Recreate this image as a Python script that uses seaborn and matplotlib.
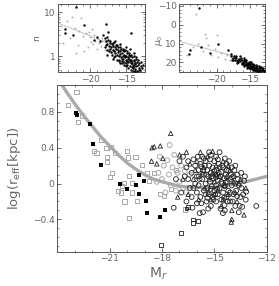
import numpy as np
import matplotlib
matplotlib.use("Agg")
import matplotlib.pyplot as plt
import matplotlib.ticker as mticker
import seaborn as sns

# ---- main panel: log(r_eff) vs M_r ----
dE_filled_M = [-22.91, -22.86, -22.15, -21.94, -21.49, -20.38, -20.0, -19.49, -19.3, -19.05,
               -19.3, -18.91, -18.86, -18.13, -17.8]
dE_filled_y = [0.785, 0.76, 0.667, 0.44, 0.21, 0.0, -0.06, -0.02, 0.09, 0.03,
               -0.115, -0.196, -0.326, -0.37, -0.29]

gray_sq_M = [-22.9, -23.37, -22.8, -22.57, -21.47, -21.18, -20.95, -21.9, -21.75, -21.14,
             -20.67, -21.14, -20.0, -19.96, -19.52, -19.14, -20.86, -20.99, -19.9, -19.71,
             -20.19, -20.29, -20.53, -20.34, -19.71, -20.15, -19.43, -19.9, -18.86, -18.76,
             -18.48, -18.13, -17.9, -16.7, -17.5, -17.2]
gray_sq_y = [1.02, 0.88, 0.69, 0.76, 0.49, 0.40, 0.41, 0.36, 0.34, 0.30,
             0.34, 0.24, 0.36, 0.29, 0.30, 0.21, 0.12, 0.07, 0.08, 0.007,
             0.007, -0.03, -0.085, -0.10, -0.10, -0.20, -0.196, -0.38, 0.12, 0.026,
             0.12, -0.12, -0.14, -0.29, -0.06, 0.15]

open_sq_M = [-18.04, -16.93, -16.23, -15.94, -16.24, -16.6, -16.5]
open_sq_y = [-0.685, -0.55, -0.40, -0.42, -0.44, -0.28, -0.26]

gray_circ_M = [-18.13, -17.56, -18.2, -18.0, -17.9, -17.7, -17.6, -17.5, -17.4, -17.3,
               -17.2, -17.1, -17.0, -16.9, -16.8, -16.7, -16.6, -16.4, -18.3, -17.8]
gray_circ_y = [0.30, 0.43, 0.12, 0.05, 0.20, 0.26, 0.10, -0.02, 0.18, 0.32,
               -0.08, 0.12, 0.02, 0.20, -0.05, 0.14, -0.10, 0.10, 0.02, -0.10]

circ_M = [-17.0, -16.8, -16.6, -16.5, -16.4, -16.3, -16.2, -16.1, -16.0, -16.0,
          -15.9, -15.9, -15.8, -15.8, -15.75, -15.7, -15.65, -15.6, -15.6, -15.5,
          -15.5, -15.45, -15.4, -15.4, -15.35, -15.3, -15.3, -15.25, -15.2, -15.2,
          -15.15, -15.1, -15.1, -15.05, -15.0, -15.0, -14.95, -14.9, -14.9, -14.85,
          -14.8, -14.8, -14.75, -14.7, -14.7, -14.65, -14.6, -14.6, -14.55, -14.5,
          -14.5, -14.51, -14.45, -14.42, -14.4, -14.35, -14.3, -14.3, -14.25, -14.2,
          -14.2, -14.1, -14.1, -14.0, -14.0, -13.9, -13.9, -13.8, -13.8, -13.7,
          -13.6, -13.6, -13.5, -13.46, -13.4, -13.3, -13.2, -13.18, -12.6, -15.84,
          -16.26, -17.33, -16.9, -16.7, -17.2, -16.6, -15.7, -15.2, -14.9, -14.4,
          -16.3, -16.1, -15.95, -15.85, -15.75, -15.65, -15.55, -15.45, -15.35, -15.25,
          -15.15, -15.05, -14.95, -14.85, -14.75, -14.65, -14.55, -14.45, -14.35, -14.25,
          -14.15, -14.05, -13.95, -13.85, -13.75, -13.65, -13.55, -13.45, -13.35, -13.25,
          -15.6, -15.3, -15.0, -14.7, -14.4, -14.1, -13.8, -16.2, -15.9, -15.5,
          -15.2, -14.9, -14.6, -14.3, -14.0, -13.7, -16.5, -16.0, -15.4, -14.8]
circ_y = [0.25, 0.30, 0.18, 0.05, -0.05, 0.12, 0.27, 0.20, -0.10, 0.08,
          0.15, -0.02, 0.22, -0.15, 0.19, 0.05, -0.32, 0.10, -0.08, 0.25,
          0.00, -0.20, 0.15, -0.05, 0.08, -0.12, 0.20, 0.02, -0.25, 0.12,
          -0.03, 0.18, -0.15, 0.06, -0.08, 0.25, 0.10, -0.02, -0.20, 0.15,
          0.04, -0.12, 0.22, 0.35, -0.05, 0.08, -0.18, 0.13, 0.00, -0.10,
          0.18, -0.33, 0.06, -0.24, -0.03, 0.10, -0.15, 0.22, 0.02, -0.08,
          0.14, -0.20, 0.05, -0.02, 0.18, -0.12, 0.08, 0.00, -0.25, 0.10,
          -0.02, -0.32, -0.15, 0.12, -0.26, 0.03, -0.18, -0.09, -0.25, -0.33,
          -0.27, -0.27, -0.10, 0.08, 0.05, -0.20, 0.30, 0.32, 0.30, 0.28,
          -0.15, 0.00, 0.30, 0.05, -0.22, 0.15, 0.20, 0.10, -0.28, 0.27,
          0.08, -0.18, -0.12, -0.06, 0.12, -0.28, 0.20, -0.16, 0.01, -0.20,
          0.25, 0.10, -0.20, 0.15, -0.08, 0.05, -0.25, -0.05, -0.12, 0.08,
          0.28, 0.35, 0.14, 0.18, -0.30, -0.10, 0.20, -0.05, 0.08, -0.12,
          -0.06, 0.07, 0.02, 0.15, 0.07, -0.14, 0.25, -0.22, -0.16, 0.27]

tri_M = [-18.57, -18.45, -18.1, -17.5, -18.6, -18.3, -17.95, -16.99, -16.6, -16.4,
         -16.2, -16.0, -15.9, -15.7, -15.55, -15.4, -15.3, -15.2, -15.1, -15.0,
         -14.9, -14.8, -14.7, -14.6, -14.5, -14.4, -14.3, -14.2, -14.1, -14.0,
         -13.9, -13.7, -13.5, -13.3, -14.03, -14.0, -16.8, -17.1, -16.5, -15.8,
         -15.1, -15.6, -15.0, -14.5, -14.2, -13.8, -15.35, -14.85, -16.1, -13.6, -13.2]
tri_y = [0.40, 0.41, 0.42, 0.56, 0.25, 0.22, 0.28, 0.32, 0.35, 0.22,
         0.05, 0.25, -0.18, 0.12, -0.05, 0.30, 0.05, -0.18, 0.12, 0.02,
         0.20, -0.08, 0.08, -0.25, 0.25, -0.02, 0.08, -0.12, 0.15, -0.30,
         0.02, -0.20, 0.05, -0.35, -0.43, -0.40, 0.05, -0.15, -0.12, 0.35,
         0.36, 0.18, -0.12, -0.18, 0.20, -0.10, -0.10, 0.10, 0.15, 0.00, -0.05]

curve_M = [-23.8, -23.5, -23.0, -22.5, -22.0, -21.5, -21.0, -20.5, -20.0, -19.5,
           -19.0, -18.5, -18.0, -17.0, -16.0, -15.0, -14.0, -13.0, -12.0]
curve_y = [1.12, 1.03, 0.89, 0.76, 0.64, 0.52, 0.42, 0.32, 0.23, 0.16,
           0.10, 0.05, 0.02, -0.03, -0.045, -0.04, -0.01, 0.03, 0.08]

# ---- inset: Sersic n vs M_r ----
n_out_M = [-21.94, -23.5, -23.5, -22.3, -20.8, -17.8, -19.5, -17.5, -14.4, -19.0, -18.6, -18.2]
n_out = [13.4, 4.1, 3.4, 3.1, 5.2, 5.4, 2.4, 3.6, 3.4, 2.8, 2.2, 3.0]

n_cloud_M = [-18.0, -17.8, -17.7, -17.5, -17.4, -17.3, -17.2, -17.0, -16.9, -16.8,
             -16.7, -16.6, -16.5, -16.4, -16.3, -16.2, -16.1, -16.0, -15.9, -15.8,
             -15.7, -15.6, -15.5, -15.4, -15.3, -15.2, -15.1, -15.0, -14.9, -14.8,
             -14.7, -14.6, -14.5, -14.4, -14.3, -14.2, -14.1, -14.0, -13.9, -13.8,
             -13.6, -13.4, -13.2,
             -17.9, -17.6, -17.1, -16.85, -16.55, -16.25, -15.95, -15.85, -15.65, -15.45,
             -15.35, -15.25, -15.05, -14.95, -14.85, -14.65, -14.55, -14.45, -14.25, -14.15,
             -14.05, -13.95, -13.75, -13.5, -13.3, -15.55, -15.15, -14.75, -14.35, -13.85,
             -17.85, -17.65, -17.45, -17.25, -17.05, -16.95, -16.75, -16.65, -16.45, -16.35,
             -16.15, -16.05, -15.9, -15.75, -15.6, -15.5, -15.3, -15.2, -15.0, -14.9,
             -14.7, -14.6, -14.4, -14.3, -14.1, -14.0, -13.8, -13.7, -13.5, -13.4,
             -13.1, -12.9, -16.6, -15.8, -15.1, -14.5, -13.9, -16.9, -17.6, -13.0,
             -12.8, -12.7, -13.3, -13.6]
n_cloud = [2.6, 2.2, 1.9, 2.4, 1.7, 2.0, 1.5, 1.9, 1.4, 1.7,
           1.3, 1.6, 1.2, 1.5, 1.1, 1.4, 1.25, 1.0, 1.3, 1.15,
           0.95, 1.2, 1.05, 0.9, 1.1, 0.95, 0.85, 1.0, 0.8, 0.95,
           0.75, 0.9, 0.8, 0.7, 0.85, 0.72, 0.65, 0.78, 0.62, 0.7,
           0.6, 0.65, 0.55,
           1.6, 1.4, 1.25, 2.0, 1.0, 1.8, 0.85, 1.6, 0.8, 1.4,
           0.75, 1.3, 0.7, 1.2, 0.65, 1.1, 0.6, 1.0, 0.58, 0.95,
           0.55, 0.85, 0.52, 0.75, 0.5, 0.9, 1.05, 0.88, 0.78, 0.68,
           1.8, 2.7, 1.3, 2.3, 1.6, 1.1, 2.1, 0.95, 1.8, 0.85,
           1.6, 0.8, 0.7, 1.45, 0.7, 1.5, 0.65, 1.4, 0.6, 1.3,
           0.55, 1.2, 0.5, 1.1, 0.48, 1.0, 0.46, 0.9, 0.48, 0.82,
           0.5, 0.6, 2.3, 1.9, 1.6, 1.45, 1.2, 0.9, 1.1, 0.75,
           0.55, 0.65, 0.7, 0.95]

n_gray_M = [-24.0, -23.8, -23.2, -22.8, -22.5, -22.1, -21.7, -21.5, -21.2, -21.0,
            -20.6, -20.3, -20.0, -19.8, -19.6, -19.3, -19.0, -18.8, -18.5, -18.3,
            -18.0, -17.8, -17.5, -17.2, -17.0, -16.8, -16.5, -16.3, -20.8, -22.0,
            -19.9, -19.4, -18.9, -18.4, -17.9, -17.4, -16.9, -16.4, -15.9, -20.2]
n_gray = [5.0, 2.0, 6.5, 2.6, 8.0, 4.5, 1.8, 3.8, 7.5, 2.9,
          3.4, 1.6, 2.7, 4.2, 1.9, 2.3, 1.5, 2.0, 1.7, 2.6,
          1.4, 1.9, 1.5, 1.7, 1.2, 1.5, 1.3, 1.1, 1.3, 1.2,
          2.1, 3.0, 2.5, 2.2, 2.4, 2.1, 1.8, 1.7, 1.4, 3.6]

n_fit_M = [-24.4, -17.5]
n_fit = [5.7, 2.0]

# ---- inset: central surface brightness mu_0 vs M_r ----
mu_out_M = [-22.6, -24.0, -24.1, -19.75, -18.3, -22.3, -21.0]
mu_out = [-9.0, 13.5, 15.5, 10.0, 13.5, 12.0, 15.0]

mu_cloud_M = [-17.8, -17.6, -17.4, -17.2, -17.0, -16.8, -16.6, -16.4, -16.2, -16.0,
              -15.9, -15.8, -15.7, -15.6, -15.5, -15.4, -15.3, -15.2, -15.1, -15.0,
              -14.9, -14.8, -14.7, -14.6, -14.5, -14.4, -14.3, -14.2, -14.1, -14.0,
              -13.9, -13.8, -13.6, -13.4, -13.2, -13.0,
              -17.5, -17.1, -16.7, -16.3, -15.95, -15.65, -15.35, -15.05, -14.85, -14.55,
              -14.35, -14.05, -13.75, -13.5, -16.5, -15.45, -14.95, -14.25, -13.85,
              -17.7, -17.3, -16.9, -16.5, -16.1, -15.75, -15.55, -15.25, -14.95, -14.75,
              -14.45, -14.15, -13.95, -13.65, -13.45, -13.3, -13.1, -12.9, -14.65, -15.15,
              -15.85, -16.15, -16.95, -17.9, -13.55, -14.3, -14.8, -12.95, -13.25, -15.9]
mu_cloud = [16.5, 17.5, 16.8, 18.5, 17.5, 18.8, 18.0, 19.5, 18.8, 19.8,
            19.0, 20.5, 19.5, 20.8, 20.0, 21.0, 20.3, 21.5, 20.8, 21.8,
            21.0, 22.3, 21.5, 22.5, 21.8, 23.0, 22.2, 23.2, 22.5, 23.5,
            22.8, 23.8, 23.2, 24.0, 23.5, 24.3,
            19.0, 16.5, 20.0, 17.5, 21.0, 18.5, 22.0, 19.8, 23.2, 20.8,
            24.0, 21.5, 24.5, 22.5, 16.8, 22.8, 20.0, 24.3, 21.8,
            18.5, 17.0, 19.5, 18.5, 20.5, 21.5, 19.0, 22.5, 22.8, 20.5,
            23.8, 23.8, 24.5, 24.5, 23.0, 24.6, 23.8, 24.6, 23.5, 23.0,
            22.0, 21.0, 20.5, 15.5, 21.8, 21.2, 19.8, 23.2, 22.5, 17.8]

mu_gray_M = [-23.1, -21.7, -21.6, -20.0, -24.5, -23.5, -22.8, -22.0, -21.3, -20.8,
             -20.3, -19.8, -19.3, -18.8, -18.5, -18.0, -17.7, -17.3, -17.0, -16.6]
mu_gray = [-5.5, 5.0, 7.0, 5.5, 16.0, 12.0, 10.5, 14.0, 11.0, 16.0,
           13.0, 17.0, 15.0, 18.0, 16.0, 19.0, 17.5, 19.0, 18.0, 20.0]

mu_fit_M = [-25.5, -17.0]
mu_fit = [9.0, 17.0]

FRAME = "#555555"
TEXT = "#666666"

sns.set_style("ticks")
plt.rcParams.update({
    "font.family": ["DejaVu Sans"],
    "axes.edgecolor": FRAME,
    "axes.linewidth": 0.7,
    "xtick.color": FRAME,
    "ytick.color": FRAME,
    "xtick.labelcolor": TEXT,
    "ytick.labelcolor": TEXT,
    "xtick.direction": "in",
    "ytick.direction": "in",
    "xtick.top": True,
    "ytick.right": True,
    "xtick.major.size": 3,
    "ytick.major.size": 3,
    "xtick.minor.size": 1.5,
    "ytick.minor.size": 1.5,
    "xtick.major.width": 0.6,
    "ytick.major.width": 0.6,
    "xtick.minor.width": 0.5,
    "ytick.minor.width": 0.5,
    "xtick.labelsize": 6.5,
    "ytick.labelsize": 6.5,
})

fig = plt.figure(figsize=(2.79, 2.86), dpi=100)
ax = fig.add_axes([0.2054, 0.12, 0.7505, 0.5829])
ax_n = fig.add_axes([0.209, 0.749, 0.311, 0.237])
ax_mu = fig.add_axes([0.643, 0.749, 0.307, 0.237])

# main panel
sns.lineplot(x=curve_M, y=curve_y, ax=ax, color="#aaaaaa", lw=2.4, sort=False, zorder=1)
sns.scatterplot(x=gray_sq_M, y=gray_sq_y, ax=ax, marker="s", s=9, facecolor="none",
                edgecolor="#a8a8a8", linewidth=0.7, zorder=2)
sns.scatterplot(x=gray_circ_M, y=gray_circ_y, ax=ax, marker="o", s=12, facecolor="none",
                edgecolor="#a8a8a8", linewidth=0.7, zorder=2)
sns.scatterplot(x=circ_M, y=circ_y, ax=ax, marker="o", s=12, facecolor="none",
                edgecolor="#222222", linewidth=0.6, zorder=3)
sns.scatterplot(x=tri_M, y=tri_y, ax=ax, marker="^", s=10, facecolor="none",
                edgecolor="#222222", linewidth=0.6, zorder=3)
sns.scatterplot(x=open_sq_M, y=open_sq_y, ax=ax, marker="s", s=7, facecolor="none",
                edgecolor="#222222", linewidth=0.6, zorder=3)
sns.scatterplot(x=dE_filled_M, y=dE_filled_y, ax=ax, marker="s", s=6, color="black",
                linewidth=0, zorder=4)

ax.set_xlim(-24, -12)
ax.set_ylim(-0.76, 1.1)
ax.xaxis.set_major_locator(mticker.FixedLocator([-21, -18, -15, -12]))
ax.xaxis.set_minor_locator(mticker.MultipleLocator(1))
ax.yaxis.set_major_locator(mticker.FixedLocator([-0.4, 0, 0.4, 0.8]))
ax.yaxis.set_major_formatter(mticker.FixedFormatter(["\u22120.4", "0", "0.4", "0.8"]))
ax.yaxis.set_minor_locator(mticker.MultipleLocator(0.1))
ax.set_xlabel("M$_r$", fontsize=10, color=TEXT)
ax.set_ylabel("log(r$_\\mathrm{eff}$[kpc])", fontsize=9.5, color=TEXT)
ax.yaxis.set_label_coords(-0.165, 0.5)
ax.xaxis.set_label_coords(0.48, -0.085)

# n inset
sns.lineplot(x=n_fit_M, y=n_fit, ax=ax_n, color="#c8c8c8", lw=0.8, zorder=1)
sns.scatterplot(x=n_gray_M, y=n_gray, ax=ax_n, s=2, color="#b0b0b0", linewidth=0, zorder=2)
sns.scatterplot(x=n_cloud_M, y=n_cloud, ax=ax_n, s=3, color="black", linewidth=0, zorder=3)
sns.scatterplot(x=n_out_M, y=n_out, ax=ax_n, s=3, color="black", linewidth=0, zorder=3)
ax_n.set_yscale("log")
ax_n.set_xlim(-24.4, -12.4)
ax_n.set_ylim(0.45, 15.5)
ax_n.xaxis.set_major_locator(mticker.FixedLocator([-20, -15]))
ax_n.xaxis.set_minor_locator(mticker.MultipleLocator(1))
ax_n.yaxis.set_major_locator(mticker.FixedLocator([1, 10]))
ax_n.yaxis.set_major_formatter(mticker.FixedFormatter(["1", "10"]))
ax_n.yaxis.set_minor_formatter(mticker.NullFormatter())
ax_n.set_xlabel("")
ax_n.set_ylabel("n", fontsize=6.5, color=TEXT)
ax_n.yaxis.set_label_coords(-0.2, 0.5)

# mu0 inset
sns.lineplot(x=mu_fit_M, y=mu_fit, ax=ax_mu, color="#c8c8c8", lw=0.8, zorder=1)
sns.scatterplot(x=mu_gray_M, y=mu_gray, ax=ax_mu, s=2, color="#b0b0b0", linewidth=0, zorder=2)
sns.scatterplot(x=mu_cloud_M, y=mu_cloud, ax=ax_mu, s=3, color="black", linewidth=0, zorder=3)
sns.scatterplot(x=mu_out_M, y=mu_out, ax=ax_mu, s=3, color="black", linewidth=0, zorder=3)
ax_mu.set_xlim(-25.6, -12.7)
ax_mu.set_ylim(25, -11)
ax_mu.xaxis.set_major_locator(mticker.FixedLocator([-20, -15]))
ax_mu.xaxis.set_minor_locator(mticker.MultipleLocator(1))
ax_mu.yaxis.set_major_locator(mticker.FixedLocator([-10, 0, 10, 20]))
ax_mu.yaxis.set_minor_locator(mticker.MultipleLocator(2))
ax_mu.set_xlabel("")
ax_mu.set_ylabel("$\\mu_0$", fontsize=6.5, color=TEXT)
ax_mu.yaxis.set_label_coords(-0.17, 0.47)

for a in (ax, ax_n, ax_mu):
    a.tick_params(which="both", top=True, right=True, pad=2)

fig.savefig("out.png", dpi=100)
